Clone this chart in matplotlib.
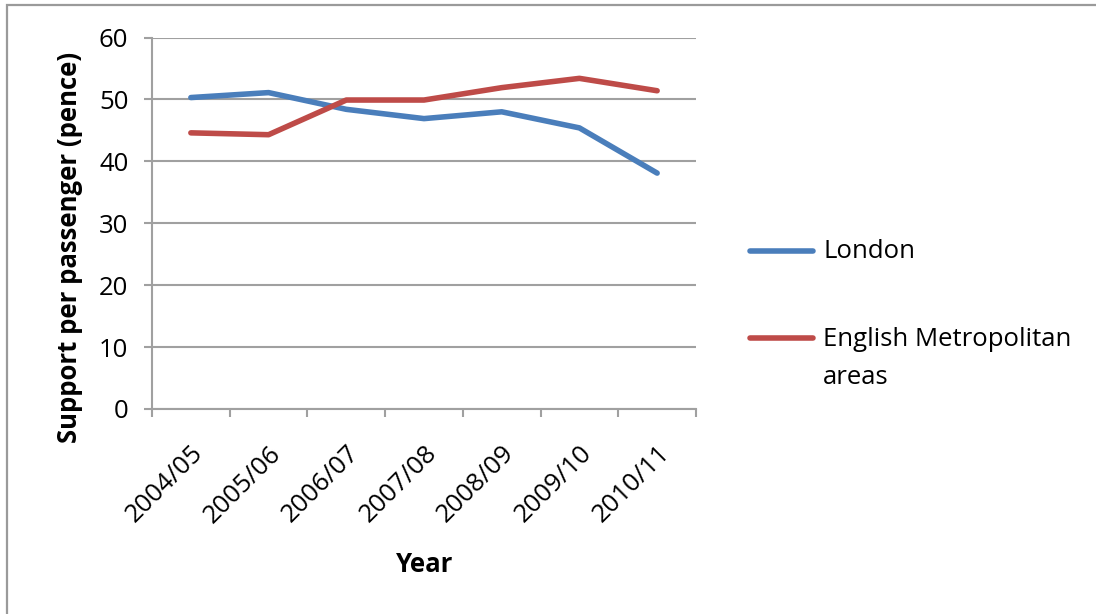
import matplotlib
matplotlib.use("Agg")
import matplotlib.pyplot as plt
import matplotlib.ticker as ticker
import matplotlib.transforms as mtransforms
from matplotlib.patches import Rectangle
from matplotlib.lines import Line2D
import numpy as np

years = ["2004/05", "2005/06", "2006/07", "2007/08", "2008/09", "2009/10", "2010/11"]
london = [50.3, 51.1, 48.4, 46.9, 48.0, 45.4, 38.1]
metro = [44.6, 44.3, 49.9, 49.9, 51.9, 53.4, 51.4]
series_names = ["London", "English Metropolitan", "areas"]
y_ticks = [0, 10, 20, 30, 40, 50, 60]

plt.rcParams['font.family'] = ['Open Sans', 'DejaVu Sans']
FS = 18.5

W, H = 1096, 614
fig = plt.figure(figsize=(W / 100, H / 100), dpi=100)

# chart frame (right and bottom edges fall outside the picture)
fig.patches.append(Rectangle((7 / W, -0.05), 1.2, 1 - 5 / H + 0.05, transform=fig.transFigure,
                             fill=False, edgecolor="#9a9a9a", linewidth=1.6))

ax = fig.add_axes([152 / W, 1 - 409 / H, (696 - 152) / W, (409 - 37.5) / H])

x = np.arange(len(years))
grey = "#a0a0a0"
l1, = ax.plot(x, london, color="#4a7ebb", linewidth=4, solid_capstyle="round", zorder=3)
l2, = ax.plot(x, metro, color="#be4b48", linewidth=4, solid_capstyle="round", zorder=3)

ax.set_xlim(-0.5, len(years) - 0.5)
ax.set_ylim(0, 60)
ax.set_yticks(y_ticks)
ax.yaxis.grid(True, color=grey, linewidth=1.5)
ax.set_axisbelow(True)

ax.set_xticks(x)
ax.set_xticklabels(years, rotation=45, ha="right", rotation_mode="anchor", fontsize=FS)
shift = mtransforms.ScaledTranslation(11 / 100, 0, fig.dpi_scale_trans)
for lab in ax.get_xticklabels():
    lab.set_transform(lab.get_transform() + shift)
ax.xaxis.set_minor_locator(ticker.FixedLocator(np.arange(-0.5, len(years), 1.0)))
ax.tick_params(axis="x", which="major", length=0, pad=23)
ax.tick_params(axis="x", which="minor", length=6, width=1.5, color=grey, direction="out")
ax.tick_params(axis="y", length=6, width=1.5, color=grey, labelsize=FS, pad=11)

for s in ["top", "right"]:
    ax.spines[s].set_visible(False)
for s in ["left", "bottom"]:
    ax.spines[s].set_color(grey)
    ax.spines[s].set_linewidth(1.5)

ax.set_ylabel("Support per passenger (pence)", fontsize=FS, fontweight="bold")
ax.yaxis.set_label_coords((83 - 152) / 544, (409 - 247) / 371.5)
fig.text(425 / W, 1 - 565 / H, "Year", fontsize=FS, fontweight="bold", ha="center", va="center")

# legend, laid out like the spreadsheet one
for line, ypix in [(l1, 250.7), (l2, 337.7)]:
    fig.add_artist(Line2D([750 / W, 813 / W], [1 - ypix / H] * 2, transform=fig.transFigure,
                          color=line.get_color(), linewidth=4, solid_capstyle="round"))
for name, ypix in zip(series_names, [252, 340, 378]):
    fig.text(823 / W, 1 - ypix / H, name, fontsize=FS, ha="left", va="center")

fig.savefig("out.png", dpi=100)
